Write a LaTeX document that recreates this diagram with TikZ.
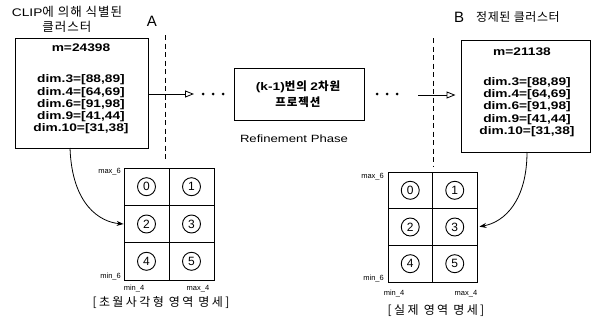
\documentclass[tikz,border=0pt]{standalone}
\usepackage{fontspec}
\setmainfont{Liberation Sans}
\newfontfamily\wide[FakeStretch=1.25]{Liberation Sans}
\newfontfamily\kr{Noto Sans CJK KR}
\usetikzlibrary{arrows.meta}
\begin{document}
\begin{tikzpicture}[x=1pt,y=-1pt,
  box/.style={draw, line width=1pt, inner sep=0pt},
  dimtxt/.style={font=\wide\fontsize{11}{12.3}\selectfont\bfseries, align=center, inner sep=0pt},
  krtitle/.style={font=\kr\fontsize{12.5}{15}\selectfont\addfontfeatures{LetterSpace=8}, align=center, inner sep=0pt},
  krcap/.style={font=\kr\fontsize{12}{12}\selectfont\addfontfeatures{LetterSpace=20}, inner sep=0pt},
  bigletter/.style={font=\fontsize{15}{15}\selectfont, inner sep=0pt},
  cell/.style={draw, line width=0.8pt, minimum width=45pt, inner sep=0pt},
  num/.style={draw, circle, line width=0.9pt, minimum size=18pt, inner sep=0pt, font=\fontsize{12}{12}\selectfont},
  small/.style={font=\fontsize{7.5}{8}\selectfont, inner sep=0pt},
  dot/.style={circle, fill, minimum size=3pt, inner sep=0pt},
  flow/.style={line width=0.8pt, -{Triangle[open, length=9pt, width=7pt]}},
  curvearrow/.style={line width=0.8pt, -{Stealth[length=7pt, width=5pt]}},
  divider/.style={line width=1pt, dash pattern=on 5pt off 3.5pt}]
\useasboundingbox (0,0) rectangle (592,324);

% titles
\node[krtitle] (t1) at (67,19) {{\wide\fontsize{11}{15}\selectfont CLIP}에 의해 식별된\\클러스터};
\node[bigletter] (A) at (152,21) {A};
\node[bigletter] (B) at (459,17) {B};
\node[krtitle, anchor=west, font=\kr\fontsize{12}{15}\selectfont\addfontfeatures{LetterSpace=5}] (t2) at (476,17) {정제된 클러스터};

% left box
\node[box, minimum width=133pt, minimum height=110pt] (L) at (81.5,93) {};
\node[dimtxt] (Lm) at (81,48) {m=24398};
\node[dimtxt] (Ld) at (81,104.5) {dim.3=[88,89]\\dim.4=[64,69]\\dim.6=[91,98]\\dim.9=[41,44]\\dim.10=[31,38]};

% right box
\node[box, minimum width=129pt, minimum height=112pt] (R) at (525.5,96) {};
\node[dimtxt] (Rm) at (522,52) {m=21138};
\node[dimtxt] (Rd) at (527,107) {dim.3=[88,89]\\dim.4=[64,69]\\dim.6=[91,98]\\dim.9=[41,44]\\dim.10=[31,38]};

% middle box
\node[box, minimum width=130pt, minimum height=52pt] (M) at (299,94) {};
\node[font=\kr\fontsize{11.5}{16}\selectfont\bfseries\addfontfeatures{LetterSpace=8}, align=center, inner sep=0pt] (Mt) at (298,94.5)
  {{\wide\fontsize{11}{16}\selectfont\bfseries (k-1)}번의 {\wide\fontsize{11}{16}\selectfont\bfseries 2}차원\\프로젝션};
\node[font=\wide\fontsize{10.5}{12}\selectfont, inner sep=0pt] (ph) at (294,139) {Refinement Phase};

% dashed dividers
\coordinate (d1a) at (165,35); \coordinate (d1b) at (165,162);
\coordinate (d2a) at (433,38); \coordinate (d2b) at (433,166);
\draw[divider] (d1a) -- (d1b);
\draw[divider] (d2a) -- (d2b);

% flow arrows and dots
\coordinate (a1) at (194,94);
\draw[flow] (L.east |- a1) -- (a1);
\node[dot] (p1) at (203,94) {};
\node[dot] (p2) at (213,94) {};
\node[dot] (p3) at (223,94) {};
\node[dot] (q1) at (377,94) {};
\node[dot] (q2) at (387,94) {};
\node[dot] (q3) at (397,94) {};
\coordinate (a2) at (418,95);
\draw[flow, shorten >=5pt] (a2) -- (R.west |- a2);

% left grid
\foreach \r in {0,1,2}{
  \foreach \c in {0,1}{
    \pgfmathtruncatemacro{\n}{2*\r+\c}
    \node[cell, minimum height=37.3pt] (g\n) at (146.5+45*\c,186.7+37.3*\r) {};
    \node[num] (n\n) at (g\n) {\n};
  }
}
\node[small, anchor=east] (lmax6) at (121,172) {max\_6};
\node[small, anchor=east] (lmin6) at (121,277) {min\_6};
\node[small] (lmin4) at (134,289) {min\_4};
\node[small] (lmax4) at (198,289) {max\_4};
\node[krcap] (c1) at (161,303) {[초월사각형 영역 명세]};

% right grid
\foreach \r in {0,1,2}{
  \foreach \c in {0,1}{
    \pgfmathtruncatemacro{\n}{2*\r+\c}
    \node[cell, minimum width=44.5pt, minimum height=36.7pt] (h\n) at (410.25+44.5*\c,190.3+36.7*\r) {};
    \node[num] (m\n) at (h\n) {\n};
  }
}
\node[small, anchor=east] (rmax6) at (384,177) {max\_6};
\node[small, anchor=east] (rmin6) at (384,279) {min\_6};
\node[small] (rmin4) at (394,294) {min\_4};
\node[small] (rmax4) at (466,294) {max\_4};
\node[krcap] (c2) at (436,311) {[실제 영역 명세]};

% curved arrows
\coordinate (s1) at (70,148);
\draw[curvearrow] (s1) .. controls (72,205) and (100,222) .. (g2.west);
\coordinate (s2) at (527,152);
\draw[curvearrow, shorten >=2pt] (s2) .. controls (527,200) and (505,222) .. (h3.east);
\end{tikzpicture}
\end{document}
